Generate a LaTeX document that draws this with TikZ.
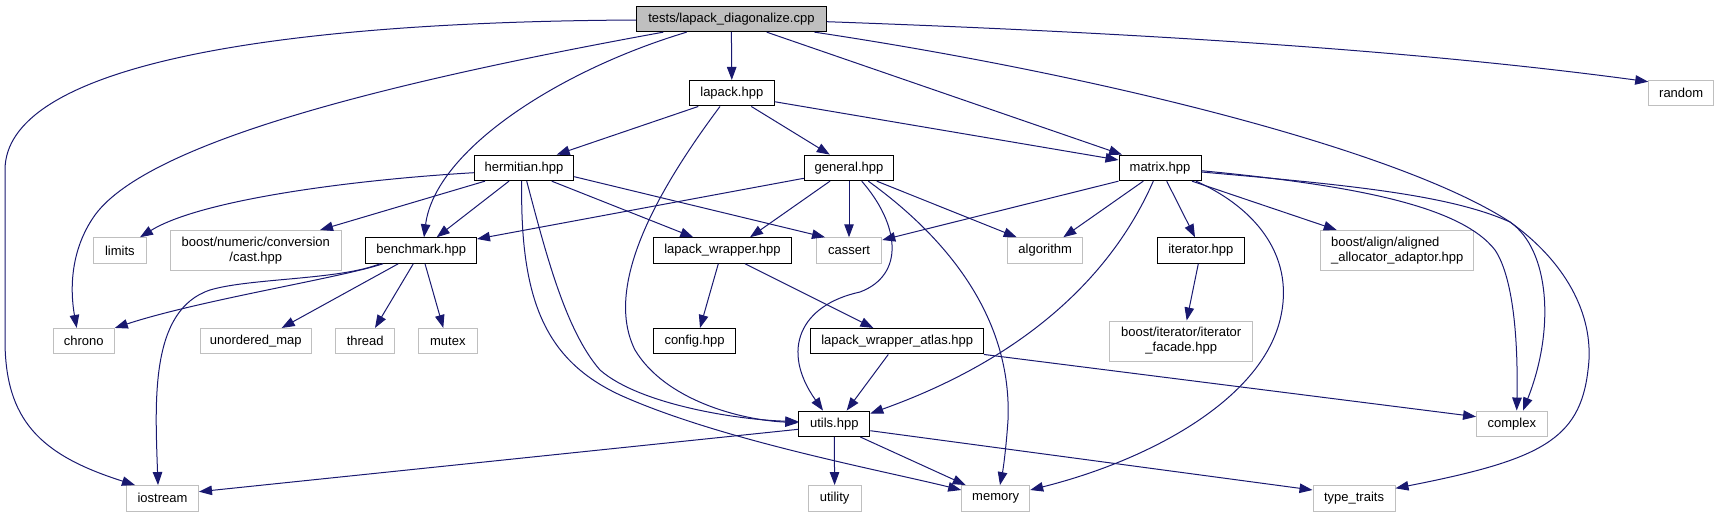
\documentclass[tikz,border=0pt]{standalone}
\usepackage{fontspec}
\setmainfont{Liberation Sans}
\usetikzlibrary{arrows.meta}
\definecolor{dblue}{RGB}{25,25,112}
\definecolor{extgray}{RGB}{191,191,191}
\begin{document}
\begin{tikzpicture}[x=1pt,y=-1pt,
  box/.style={rectangle, inner sep=0pt, minimum height=25.5pt, line width=1pt, font=\fontsize{13}{15}\selectfont},
  doc/.style={box, draw=black},
  ext/.style={box, draw=extgray},
  dep/.style={draw=dblue, line width=1pt, -{Triangle[length=13pt,width=9.5pt]}}]
\useasboundingbox (0,0) rectangle (1723,517);
% row 0
\node[doc, fill=extgray, minimum width=190pt] (tests) at (731.4,18.9) {tests/lapack\_diagonalize.cpp};
% row 1
\node[doc, minimum width=84.5pt] (lapack) at (731.8,93.2) {lapack.hpp};
\node[ext, minimum width=65pt] (random) at (1681.2,93.2) {random};
% row 2
\node[doc, minimum width=99.5pt] (hermitian) at (524,167.9) {hermitian.hpp};
\node[doc, minimum width=89.5pt] (general) at (849,167.9) {general.hpp};
\node[doc, minimum width=82pt] (matrix) at (1160,167.9) {matrix.hpp};
% row 3
\node[ext, minimum width=53pt] (limits) at (119.9,250.5) {limits};
\node[ext, minimum width=170.5pt, minimum height=40pt, align=center] (bnum) at (255.8,250.5) {boost/numeric/conversion\\/cast.hpp};
\node[doc, minimum width=110.5pt] (bench) at (421.2,250.5) {benchmark.hpp};
\node[doc, minimum width=138.5pt] (lwrap) at (722.5,250.5) {lapack\_wrapper.hpp};
\node[ext, minimum width=65.5pt] (cassert) at (849,250.5) {cassert};
\node[ext, minimum width=74.5pt] (algorithm) at (1045.2,250.5) {algorithm};
\node[doc, minimum width=87pt] (iterator) at (1200.8,250.5) {iterator.hpp};
\node[ext, minimum width=153pt, minimum height=40pt, align=left] (balign) at (1397.2,250.5) {boost/align/aligned\\\_allocator\_adaptor.hpp};
% row 4
\node[ext, minimum width=61pt] (chrono) at (83.8,341.2) {chrono};
\node[ext, minimum width=110.5pt] (umap) at (255.8,341.2) {unordered\_map};
\node[ext, minimum width=58.5pt] (thread) at (365.2,341.2) {thread};
\node[ext, minimum width=58.5pt] (mutex) at (447.8,341.2) {mutex};
\node[doc, minimum width=82.5pt] (config) at (694.5,341.2) {config.hpp};
\node[doc, minimum width=172.5pt] (atlas) at (897.2,341.2) {lapack\_wrapper\_atlas.hpp};
\node[ext, minimum width=142.5pt, minimum height=40pt, align=center] (facade) at (1181.2,341) {boost/iterator/iterator\\\_facade.hpp};
% row 5
\node[doc, minimum width=71pt] (utils) at (834.3,423.8) {utils.hpp};
\node[ext, minimum width=70.5pt] (complex) at (1511.8,423.8) {complex};
% row 6
\node[ext, minimum width=72pt] (iostream) at (162.5,498.3) {iostream};
\node[ext, minimum width=53pt] (utility) at (834.6,498.3) {utility};
\node[ext, minimum width=68pt] (memory) at (995.7,498.3) {memory};
\node[ext, minimum width=82pt] (ttraits) at (1354,498.3) {type\_traits};

% tests
\draw[dep] (tests.south) -- (lapack.north);
\draw[dep] (tests.west |- 0,20) .. controls (250,22) and (5,70) .. (5,170) -- (5,340) .. controls (5,420) and (40,455) .. (iostream.north -| 135,0);
\draw[dep] (tests.south -| 663.3,0) .. controls (400,80) and (150,140) .. (95,215) .. controls (70,250) and (70,290) .. (chrono.north -| 76.7,0);
\draw[dep] (tests.south -| 686.7,0) .. controls (560,70) and (435,150) .. (bench.north -| 424,0);
\draw[dep] (tests.south -| 766.7,0) -- (matrix.north -| 1122,0);
\draw[dep] (tests.south -| 814.5,0) .. controls (1100,75) and (1400,150) .. (1510,222) .. controls (1550,250) and (1555,330) .. (complex.north -| 1523,0);
\draw[dep] (tests.east |- 0,21.7) .. controls (1200,35) and (1450,55) .. (random.west |- 0,81.7);
% lapack
\draw[dep] (lapack.south -| 698.3,0) -- (hermitian.north -| 556.7,0);
\draw[dep] (lapack.south -| 751.3,0) -- (general.north -| 829.8,0);
\draw[dep] (lapack.east |- 0,101.7) -- (matrix.west |- 0,160);
\draw[dep] (lapack.south -| 720,0) .. controls (650,200) and (605,290) .. (635,350) .. controls (665,400) and (740,420) .. (utils.west |- 0,422.7);
% hermitian
\draw[dep] (hermitian.west |- 0,172.7) .. controls (350,180) and (200,200) .. (limits.north -| 140,0);
\draw[dep] (hermitian.south -| 485,0) -- (bnum.north -| 320,0);
\draw[dep] (hermitian.south -| 509,0) -- (bench.north -| 436.7,0);
\draw[dep] (hermitian.south -| 551.7,0) -- (lwrap.north -| 693.3,0);
\draw[dep] (hermitian.east |- 0,176.7) -- (cassert.north -| 825,0);
\draw[dep] (hermitian.south -| 526.7,0) .. controls (545,250) and (565,330) .. (600,370) .. controls (640,405) and (740,420) .. (utils.west |- 0,421.5);
\draw[dep] (hermitian.south -| 521.7,0) .. controls (520,300) and (545,360) .. (620,395) .. controls (720,440) and (880,470) .. (memory.west |- 0,490);
% general
\draw[dep] (general.west |- 0,178.3) -- (bench.east |- 0,239);
\draw[dep] (general.south -| 830,0) -- (lwrap.north -| 750,0);
\draw[dep] (general.south) -- (cassert.north);
\draw[dep] (general.south -| 861.7,0) .. controls (900,225) and (905,275) .. (860,292) .. controls (800,305) and (780,350) .. (utils.north -| 823,0);
\draw[dep] (general.south -| 868.3,0) .. controls (950,240) and (1012,320) .. (1008,420) .. controls (1006,450) and (1003,470) .. (memory.north -| 1000,0);
\draw[dep] (general.south -| 876.7,0) -- (algorithm.north -| 1016.7,0);
% matrix
\draw[dep] (matrix.south west) -- (cassert.east |- 0,240);
\draw[dep] (matrix.south -| 1143.3,0) -- (algorithm.north -| 1063.3,0);
\draw[dep] (matrix.south -| 1153.3,0) .. controls (1110,280) and (1020,360) .. (utils.east |- 0,413.5);
\draw[dep] (matrix.south -| 1166.7,0) -- (iterator.north -| 1195,0);
\draw[dep] (matrix.south -| 1196,0) .. controls (1260,210) and (1295,260) .. (1280,320) .. controls (1260,400) and (1150,460) .. (memory.east |- 0,490);
\draw[dep] (matrix.south -| 1192,0) -- (balign.north -| 1336.7,0);
\draw[dep] (matrix.east |- 0,170.7) .. controls (1350,185) and (1460,205) .. (1495,250) .. controls (1515,280) and (1518,350) .. (complex.north -| 1516.7,0);
\draw[dep] (matrix.east |- 0,172) .. controls (1350,185) and (1450,195) .. (1510,222) .. controls (1570,265) and (1595,320) .. (1588,370) .. controls (1580,440) and (1540,460) .. (ttraits.east |- 0,488.3);
% benchmark
\draw[dep] (bench.south -| 383,0) .. controls (340,278) and (200,300) .. (chrono.north east);
\draw[dep] (bench.south -| 380,0) .. controls (340,280) and (250,278) .. (210,290) .. controls (150,310) and (155,400) .. (iostream.north -| 158,0);
\draw[dep] (bench.south -| 398.3,0) -- (umap.north -| 281.7,0);
\draw[dep] (bench.south -| 413.3,0) -- (thread.north -| 375,0);
\draw[dep] (bench.south -| 425,0) -- (mutex.north -| 443.3,0);
% lapack_wrapper
\draw[dep] (lwrap.south -| 718.3,0) -- (config.north -| 700,0);
\draw[dep] (lwrap.south -| 745,0) -- (atlas.north -| 873.3,0);
% atlas
\draw[dep] (atlas.south -| 888.3,0) -- (utils.north -| 846.7,0);
\draw[dep] (atlas.south east) -- (complex.west |- 0,416.7);
% utils
\draw[dep] (utils.west |- 0,429.3) -- (iostream.east |- 0,491.7);
\draw[dep] (utils.south) -- (utility.north);
\draw[dep] (utils.south -| 860.4,0) -- (memory.north -| 965.7,0);
\draw[dep] (utils.east |- 0,430.7) -- (ttraits.west |- 0,490);
% iterator
\draw[dep] (iterator.south -| 1198.3,0) -- (facade.north -| 1186.7,0);
\end{tikzpicture}
\end{document}
